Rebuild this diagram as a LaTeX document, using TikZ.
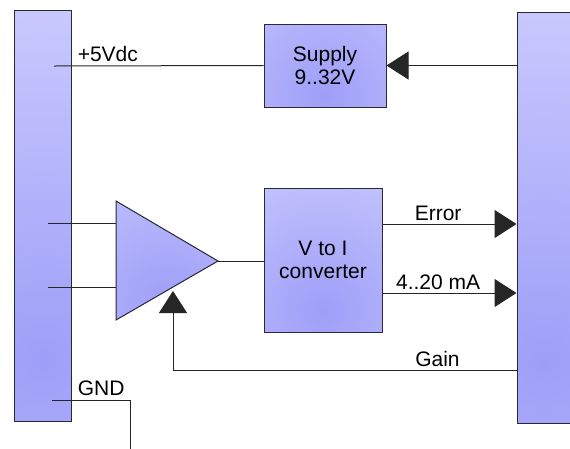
\documentclass[tikz,border=0pt]{standalone}
\usepackage{fontspec}
\setmainfont{Liberation Sans}
\usetikzlibrary{arrows.meta,calc}
\definecolor{lav}{RGB}{204,204,255}
\definecolor{lavdeep}{RGB}{158,158,248}
\definecolor{edgegray}{RGB}{40,40,55}

\begin{document}
\begin{tikzpicture}[x=1pt,y=-1pt,>={Triangle[length=22pt,width=28pt]},line width=1pt,
	font=\fontsize{21pt}{23pt}\selectfont,
	blk/.style={draw=edgegray,fill=lav,inner sep=0pt,align=center,
		path picture={\shade[inner color=lavdeep,outer color=lav]
			($(path picture bounding box.south)!0.15!(path picture bounding box.north)$) circle (#1);}},
	wire/.style={draw=black!85},
	lbl/.style={anchor=base,yshift=4pt,inner sep=0pt}]
	\useasboundingbox (0,0) rectangle (570,448);
	% buses left and right
	\node[blk=380pt,minimum width=57pt,minimum height=411pt] (bus_l) at (42.5,215.5) {};
	\node[blk=380pt,minimum width=54pt,minimum height=411pt] (bus_r) at (544,217.5) {};
	% blocks
	\node[blk=170pt,minimum width=122pt,minimum height=83pt] (supply) at (325,65.5) {Supply\\9..32V};
	\node[blk=180pt,minimum width=118pt,minimum height=144pt] (conv) at (323,260) {V to I\\converter};
	\path[blk=190pt] (116,201) -- (218,261) -- (116,320) -- cycle;
	\coordinate (amp_in1) at (116,223);
	\coordinate (amp_in2) at (116,287);
	\coordinate (amp_out) at (218,261);
	\coordinate (amp_gain) at (173,291);
	% pins on the left bus
	\coordinate (pin_5v) at (54,66);
	\coordinate (pin_in1) at (48,223);
	\coordinate (pin_in2) at (48,287);
	\coordinate (pin_gnd) at (52,400);
	\coordinate (gnd_end) at (130,452);
	% wires
	\draw[wire] (pin_5v) -- node[lbl,pos=0.257] {+5Vdc} (supply.west);
	\draw[wire,->] (bus_r.west |- supply.east) -- (supply.east);
	\draw[wire] (pin_in1) -- (amp_in1);
	\draw[wire] (pin_in2) -- (amp_in2);
	\draw[wire] (amp_out) -- (conv.west |- amp_out);
	\draw[wire,->] (conv.east |- 0,224) -- node[lbl,pos=0.415] {Error} (bus_r.west |- 0,224);
	\draw[wire,->] (conv.east |- 0,293) -- node[lbl,pos=0.415] {4..20 mA} (bus_r.west |- 0,293);
	\draw[wire,->] (bus_r.west |- 0,370) -- node[lbl,pos=0.23] {Gain} (amp_gain |- 0,370) -- (amp_gain);
	\draw[wire] (pin_gnd) -- node[lbl,pos=0.63,yshift=1pt] {GND} (gnd_end |- pin_gnd) -- (gnd_end);
\end{tikzpicture}
\end{document}
